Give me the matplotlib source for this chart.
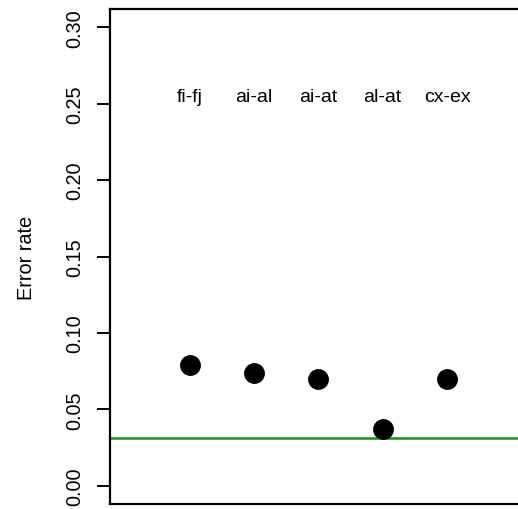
import matplotlib
matplotlib.use("Agg")
import matplotlib.pyplot as plt

plt.rcParams['font.family'] = ['Liberation Sans', 'DejaVu Sans']

pairs = ["fi-fj", "ai-al", "ai-at", "al-at", "cx-ex"]
error_rates = [0.079, 0.074, 0.0695, 0.037, 0.0695]
baseline = 0.031
label_y = 0.255
y_ticks = [0.00, 0.05, 0.10, 0.15, 0.20, 0.25, 0.30]
y_tick_labels = ["0.00", "0.05", "0.10", "0.15", "0.20", "0.25", "0.30"]

W, H = 518, 510
fig = plt.figure(figsize=(W / 100, H / 100), dpi=100)
left, right, top, bottom = 110, 526.7, 10, 505
ax = fig.add_axes([left / W, 1 - bottom / H, (right - left) / W, (bottom - top) / H])

xs = list(range(1, len(pairs) + 1))
ax.plot(xs, error_rates, 'o', color='black', markersize=14, zorder=3)
ax.axhline(baseline, color='#228B22', linewidth=1.8, zorder=2)
for x, name in zip(xs, pairs):
    ax.text(x, label_y, name, ha='center', va='center', fontsize=14)

ax.set_xlim(-0.24, 6.24)
ax.set_ylim(-0.012, 0.312)
ax.set_xticks([])
ax.set_yticks(y_ticks)
ax.set_yticklabels(y_tick_labels, rotation=90, va='center', fontsize=14.3)
ax.tick_params(axis='y', length=9.5, width=1.4, pad=9)
ax.set_ylabel("Error rate", fontsize=14.3, labelpad=21)
for s in ax.spines.values():
    s.set_linewidth(1.6)

fig.savefig("out.png", dpi=100)
